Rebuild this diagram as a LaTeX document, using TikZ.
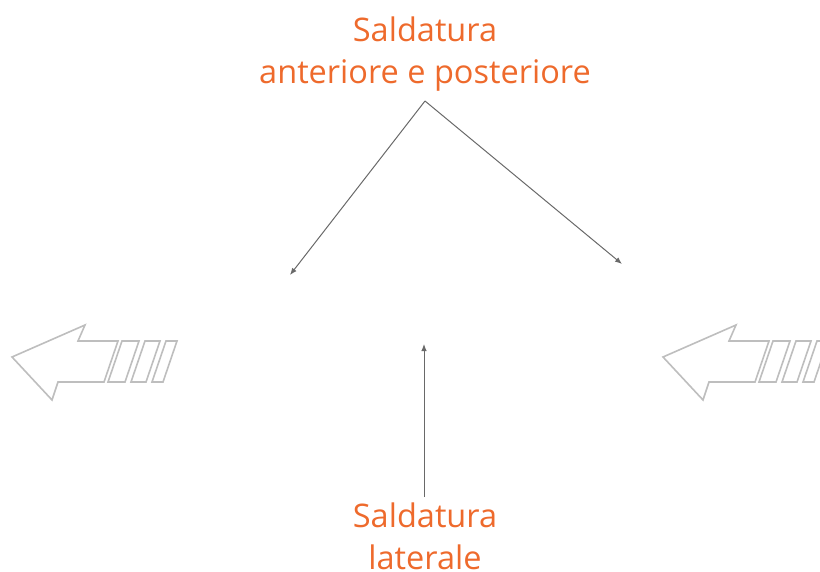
\documentclass[tikz,border=0pt]{standalone}
\usepackage{fontspec}
\setmainfont{Open Sans}
\usetikzlibrary{arrows.meta}
\definecolor{weldorange}{RGB}{238,106,44}
\definecolor{linegray}{RGB}{105,105,105}
\definecolor{arrowgray}{RGB}{190,190,190}
\tikzset{
  label/.style={text=weldorange,font=\fontsize{32.5}{38}\selectfont,anchor=base,inner sep=0pt},
  conn/.style={draw=linegray,line width=1pt,-{Latex[length=7pt,width=5.5pt]}},
  bigarrow/.style={draw=arrowgray,line width=1.6pt,line join=miter,fill=white}
}
\begin{document}
\begin{tikzpicture}[x=1pt,y=-1pt]
\useasboundingbox (0,0) rectangle (820,572);
\node[label] (t1) at (425,42) {Saldatura};
\node[label] (t2) at (425,84) {anteriore e posteriore};
\node[label] (b1) at (425,527) {Saldatura};
\node[label] (b2) at (425,569) {laterale};
\coordinate (apex) at (425,101);
\coordinate (leftend) at (290,275);
\coordinate (rightend) at (622,264);
\coordinate (vtop) at (424,344);
\coordinate (vbot) at (424,497);
\draw[conn] (apex) -- (leftend);
\draw[conn] (apex) -- (rightend);
\draw[conn] (vbot) -- (vtop);
\begin{scope}
\clip (0,0) rectangle (820,572);
\foreach \dx in {0,651}{
\begin{scope}[xshift=\dx]
\draw[bigarrow] (12,357) -- (85,325) -- (78,341) -- (118,341) -- (104,382) -- (58,382) -- (52,400) -- cycle;
\draw[bigarrow] (122,341) -- (139,341) -- (125,382) -- (108,382) -- cycle;
\draw[bigarrow] (145,341) -- (160,341) -- (146,382) -- (131,382) -- cycle;
\draw[bigarrow] (166,341) -- (177,341) -- (163,382) -- (152,382) -- cycle;
\end{scope}
}
\end{scope}
\end{tikzpicture}
\end{document}
